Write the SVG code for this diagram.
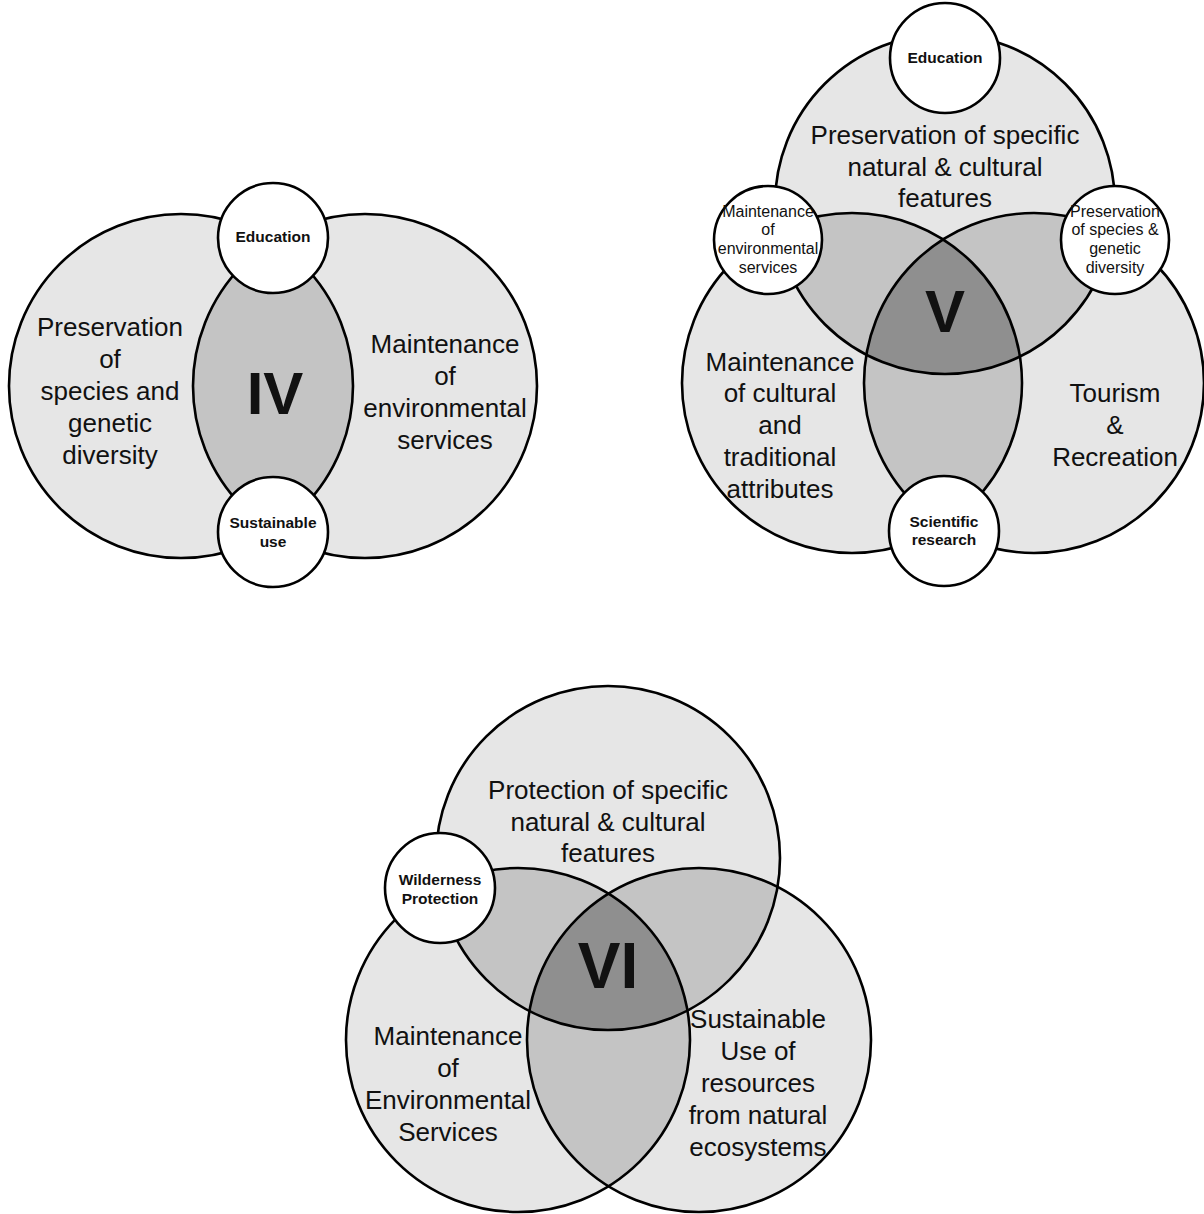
<svg xmlns="http://www.w3.org/2000/svg" width="1204" height="1214" viewBox="0 0 1204 1214">
<style>
.bg{fill:#e6e6e6;stroke:none}
.mid{fill:#c4c4c4;stroke:none}
.dark{fill:#8f8f8f;stroke:none}
.ol{fill:none;stroke:#000;stroke-width:2.6}
.sm{fill:#fff;stroke:#000;stroke-width:2.6}
text{font-family:"Liberation Sans",Arial,Helvetica,sans-serif;fill:#111;text-anchor:middle}
.big{font-size:26px}
.sb{font-size:15.5px;font-weight:bold}
.sr{font-size:16px}
.rom{font-size:60px;font-weight:bold}
</style>
<defs>
<clipPath id="c-iv-L"><circle cx="181" cy="386" r="172"/></clipPath>
<clipPath id="c-v-T"><circle cx="945" cy="204" r="170"/></clipPath>
<clipPath id="c-v-BL"><circle cx="852" cy="383" r="170"/></clipPath>
<clipPath id="c-v-BR"><circle cx="1034" cy="383" r="170"/></clipPath>
<clipPath id="c-vi-T"><circle cx="608" cy="858" r="172"/></clipPath>
<clipPath id="c-vi-BL"><circle cx="518" cy="1040" r="172"/></clipPath>
<clipPath id="c-vi-BR"><circle cx="699" cy="1040" r="172"/></clipPath>
</defs>
<rect width="1204" height="1214" fill="#fff"/>

<!-- Diagram IV -->
<g id="diagram-iv">
  <g id="iv-fills">
    <circle class="bg" cx="181" cy="386" r="172"/>
    <circle class="bg" cx="365" cy="386" r="172"/>
    <circle class="mid" cx="365" cy="386" r="172" clip-path="url(#c-iv-L)"/>
  </g>
  <g id="iv-species">
    <circle class="ol" cx="181" cy="386" r="172"/>
    <text class="big" x="110"><tspan x="110" y="336">Preservation</tspan><tspan x="110" y="368">of</tspan><tspan x="110" y="400">species and</tspan><tspan x="110" y="432">genetic</tspan><tspan x="110" y="464">diversity</tspan></text>
  </g>
  <g id="iv-envservices">
    <circle class="ol" cx="365" cy="386" r="172"/>
    <text class="big" x="445"><tspan x="445" y="353">Maintenance</tspan><tspan x="445" y="385">of</tspan><tspan x="445" y="417">environmental</tspan><tspan x="445" y="449">services</tspan></text>
  </g>
  <g id="iv-label"><text class="rom" x="275" y="414">IV</text></g>
  <g id="iv-education">
    <circle class="sm" cx="273" cy="238" r="55"/>
    <text class="sb" x="273" y="242">Education</text>
  </g>
  <g id="iv-sustainable">
    <circle class="sm" cx="273" cy="532" r="55"/>
    <text class="sb" x="273"><tspan x="273" y="528">Sustainable</tspan><tspan x="273" y="547">use</tspan></text>
  </g>
</g>

<!-- Diagram V -->
<g id="diagram-v">
  <g id="v-fills">
    <circle class="bg" cx="945" cy="204" r="170"/>
    <circle class="bg" cx="852" cy="383" r="170"/>
    <circle class="bg" cx="1034" cy="383" r="170"/>
    <circle class="mid" cx="852" cy="383" r="170" clip-path="url(#c-v-T)"/>
    <circle class="mid" cx="1034" cy="383" r="170" clip-path="url(#c-v-T)"/>
    <circle class="mid" cx="1034" cy="383" r="170" clip-path="url(#c-v-BL)"/>
    <g clip-path="url(#c-v-T)"><circle class="dark" cx="1034" cy="383" r="170" clip-path="url(#c-v-BL)"/></g>
  </g>
  <g id="v-features">
    <circle class="ol" cx="945" cy="204" r="170"/>
    <text class="big" x="945"><tspan x="945" y="144">Preservation of specific</tspan><tspan x="945" y="176">natural &amp; cultural</tspan><tspan x="945" y="207">features</tspan></text>
  </g>
  <g id="v-cultural">
    <circle class="ol" cx="852" cy="383" r="170"/>
    <text class="big" x="780"><tspan x="780" y="371">Maintenance</tspan><tspan x="780" y="402">of cultural</tspan><tspan x="780" y="434">and</tspan><tspan x="780" y="466">traditional</tspan><tspan x="780" y="498">attributes</tspan></text>
  </g>
  <g id="v-tourism">
    <circle class="ol" cx="1034" cy="383" r="170"/>
    <text class="big" x="1115"><tspan x="1115" y="402">Tourism</tspan><tspan x="1115" y="434">&amp;</tspan><tspan x="1115" y="466">Recreation</tspan></text>
  </g>
  <g id="v-label"><text class="rom" x="945" y="332">V</text></g>
  <g id="v-education">
    <circle class="sm" cx="945" cy="58" r="55"/>
    <text class="sb" x="945" y="63">Education</text>
  </g>
  <g id="v-envservices">
    <circle class="sm" cx="768" cy="240" r="54"/>
    <text class="sr" x="768"><tspan x="768" y="217">Maintenance</tspan><tspan x="768" y="235">of</tspan><tspan x="768" y="254">environmental</tspan><tspan x="768" y="273">services</tspan></text>
  </g>
  <g id="v-species">
    <circle class="sm" cx="1115" cy="240" r="54"/>
    <text class="sr" x="1115"><tspan x="1115" y="217">Preservation</tspan><tspan x="1115" y="235">of species &amp;</tspan><tspan x="1115" y="254">genetic</tspan><tspan x="1115" y="273">diversity</tspan></text>
  </g>
  <g id="v-research">
    <circle class="sm" cx="944" cy="531" r="55"/>
    <text class="sb" x="944"><tspan x="944" y="527">Scientific</tspan><tspan x="944" y="545">research</tspan></text>
  </g>
</g>

<!-- Diagram VI -->
<g id="diagram-vi">
  <g id="vi-fills">
    <circle class="bg" cx="608" cy="858" r="172"/>
    <circle class="bg" cx="518" cy="1040" r="172"/>
    <circle class="bg" cx="699" cy="1040" r="172"/>
    <circle class="mid" cx="518" cy="1040" r="172" clip-path="url(#c-vi-T)"/>
    <circle class="mid" cx="699" cy="1040" r="172" clip-path="url(#c-vi-T)"/>
    <circle class="mid" cx="699" cy="1040" r="172" clip-path="url(#c-vi-BL)"/>
    <g clip-path="url(#c-vi-T)"><circle class="dark" cx="699" cy="1040" r="172" clip-path="url(#c-vi-BL)"/></g>
  </g>
  <g id="vi-features">
    <circle class="ol" cx="608" cy="858" r="172"/>
    <text class="big" x="608"><tspan x="608" y="799">Protection of specific</tspan><tspan x="608" y="831">natural &amp; cultural</tspan><tspan x="608" y="862">features</tspan></text>
  </g>
  <g id="vi-envservices">
    <circle class="ol" cx="518" cy="1040" r="172"/>
    <text class="big" x="448"><tspan x="448" y="1045">Maintenance</tspan><tspan x="448" y="1077">of</tspan><tspan x="448" y="1109">Environmental</tspan><tspan x="448" y="1141">Services</tspan></text>
  </g>
  <g id="vi-sustainable">
    <circle class="ol" cx="699" cy="1040" r="172"/>
    <text class="big" x="758"><tspan x="758" y="1028">Sustainable</tspan><tspan x="758" y="1060">Use of</tspan><tspan x="758" y="1092">resources</tspan><tspan x="758" y="1124">from natural</tspan><tspan x="758" y="1156">ecosystems</tspan></text>
  </g>
  <g id="vi-label"><text class="rom" x="608" y="988" style="font-size:64px">VI</text></g>
  <g id="vi-wilderness">
    <circle class="sm" cx="440" cy="888" r="55"/>
    <text class="sb" x="440"><tspan x="440" y="885">Wilderness</tspan><tspan x="440" y="904">Protection</tspan></text>
  </g>
</g>
<g id="connectors"/>
</svg>
